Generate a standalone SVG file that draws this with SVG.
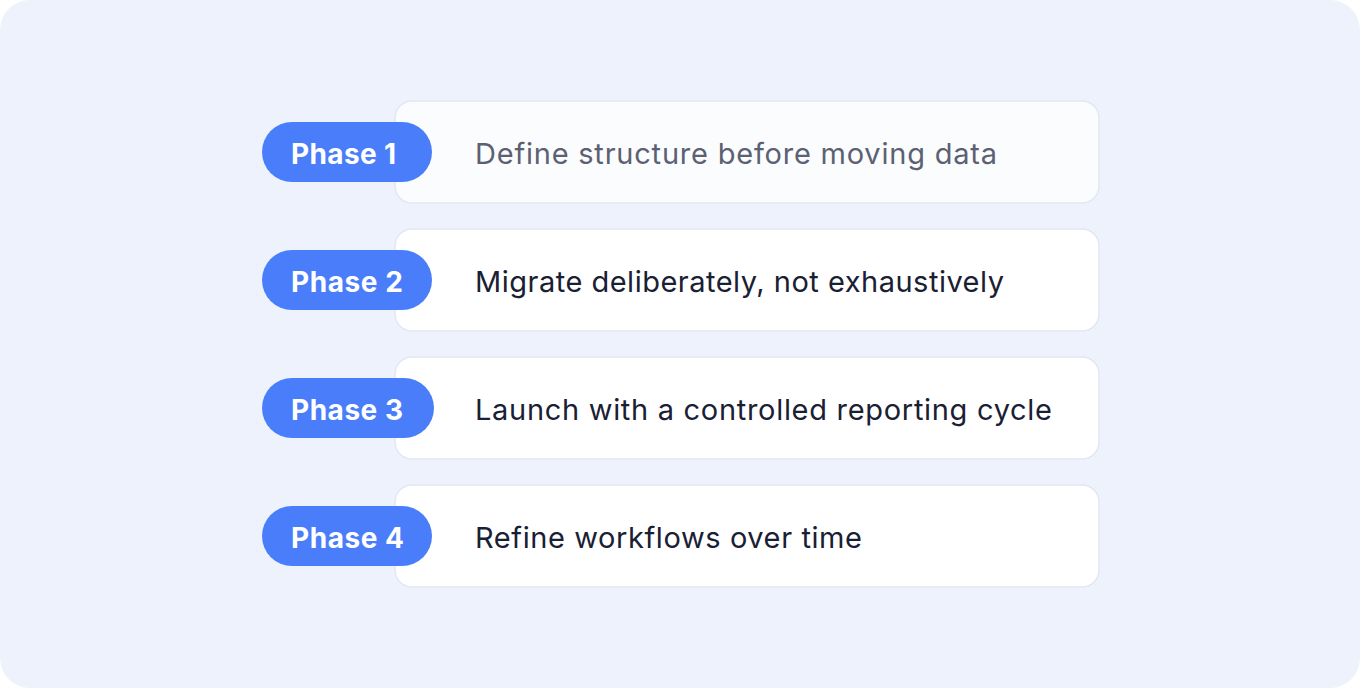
<svg xmlns="http://www.w3.org/2000/svg" width="1360" height="688" viewBox="0 0 1360 688">
<style>
.card{fill:#ffffff;stroke:#e2e7f1;stroke-width:1.5}
.card1{fill:#fbfcfe}
.pill{fill:#4a7dfa}
.pt{font-family:Inter,"Liberation Sans",sans-serif;font-weight:700;font-size:28px;fill:#ffffff}
.lt{font-family:Inter,"Liberation Sans",sans-serif;font-size:29px;fill:#1a2033}
.lt1{fill:#5b6172}
</style>
<rect x="0" y="0" width="1360" height="688" fill="#ffffff"/>
<rect x="0" y="0" width="1360" height="688" rx="30" fill="#eef2fc"/>
<g id="node-phase1">
<rect class="card card1" x="395" y="101" width="704" height="102" rx="17"/>
<rect class="pill" x="262" y="122" width="170" height="60" rx="30"/>
<text class="pt" x="291" y="164" textLength="105" lengthAdjust="spacing">Phase 1</text>
<text class="lt lt1" x="475" y="164" textLength="522" lengthAdjust="spacing">Define structure before moving data</text>
</g>
<g id="node-phase2">
<rect class="card" x="395" y="229" width="704" height="102" rx="17"/>
<rect class="pill" x="262" y="250" width="170" height="60" rx="30"/>
<text class="pt" x="291" y="292" textLength="112" lengthAdjust="spacing">Phase 2</text>
<text class="lt" x="475" y="292" textLength="529" lengthAdjust="spacing">Migrate deliberately, not exhaustively</text>
</g>
<g id="node-phase3">
<rect class="card" x="395" y="357" width="704" height="102" rx="17"/>
<rect class="pill" x="262" y="378" width="172" height="60" rx="30"/>
<text class="pt" x="291" y="420" textLength="112" lengthAdjust="spacing">Phase 3</text>
<text class="lt" x="475" y="420" textLength="577" lengthAdjust="spacing">Launch with a controlled reporting cycle</text>
</g>
<g id="node-phase4">
<rect class="card" x="395" y="485" width="704" height="102" rx="17"/>
<rect class="pill" x="262" y="506" width="170" height="60" rx="30"/>
<text class="pt" x="291" y="548" textLength="113" lengthAdjust="spacing">Phase 4</text>
<text class="lt" x="475" y="548" textLength="387" lengthAdjust="spacing">Refine workflows over time</text>
</g>
<g id="connectors"></g>
</svg>
